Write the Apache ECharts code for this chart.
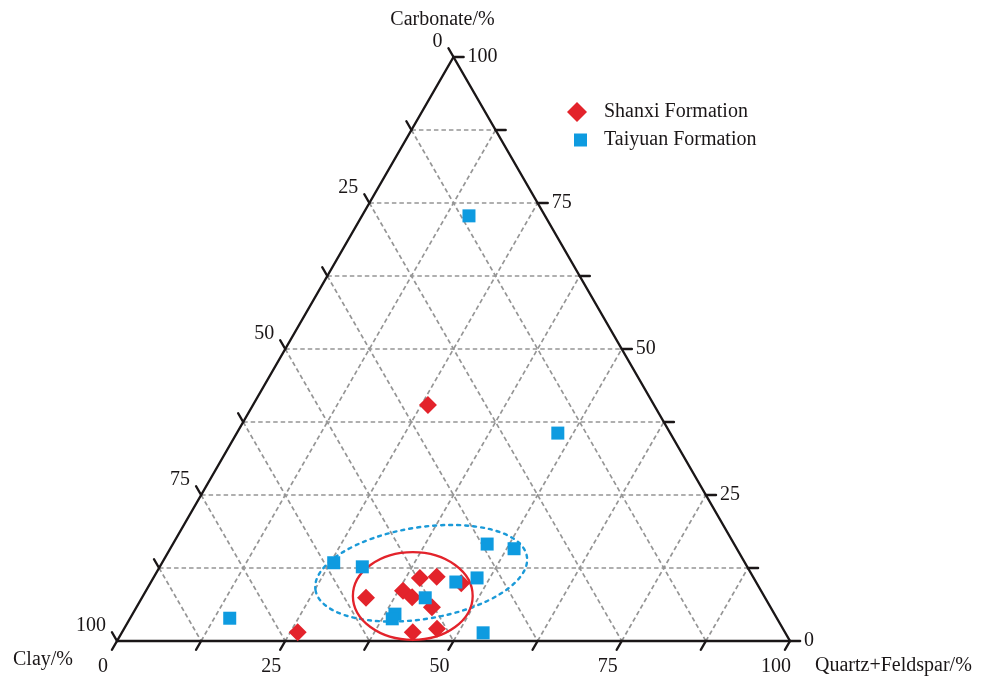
<!DOCTYPE html>
<html>
<head>
<meta charset="utf-8">
<script src="https://cdn.jsdelivr.net/npm/echarts@6/dist/echarts.min.js"></script>
<style>
  html, body { margin: 0; padding: 0; background: #ffffff; }
  #chart { width: 990px; height: 679px; }
</style>
</head>
<body>
<div id="chart"></div>
<script>
// Sample compositions, percent: quartz+feldspar, carbonate, clay
const shanxiQuartzFeldspar = [26.0, 26.1, 33.3, 38.2, 40.1, 39.6, 42.0, 43.9, 43.2, 46.5, 46.2];
const shanxiCarbonate      = [40.4,  1.5,  7.4,  8.6,  7.5, 10.8, 11.0,  5.8,  1.5,  2.1,  9.9];
const shanxiClay           = [33.6, 72.4, 59.3, 53.2, 52.4, 49.6, 47.0, 50.3, 55.3, 51.4, 43.9];

const taiyuanQuartzFeldspar = [15.9, 47.7, 46.7, 51.1, 25.5, 30.1, 48.1, 45.3, 42.1, 39.0, 39.0, 14.8, 53.7];
const taiyuanCarbonate      = [72.8, 35.6, 16.6, 15.8, 13.4, 12.7, 10.8, 10.1,  7.4,  4.6,  3.8,  3.9,  1.4];
const taiyuanClay           = [11.3, 16.7, 36.7, 33.1, 61.1, 57.2, 41.1, 44.6, 50.5, 56.4, 57.2, 81.3, 44.9];

const seriesNames = ['Shanxi Formation', 'Taiyuan Formation'];
const axisTitles = ['Carbonate/%', 'Clay/%', 'Quartz+Feldspar/%'];

// Triangular grid: dashed lines and tick marks every 12.5 %, labels every 25 %
const gridSteps = [12.5, 25, 37.5, 50, 62.5, 75, 87.5];
const tickSteps = [0, 12.5, 25, 37.5, 50, 62.5, 75, 87.5, 100];
const tickLabels = [0, 25, 50, 75, 100];
const tickLength = 1.5;

// Grouping envelopes: [quartz+feldspar, carbonate, half-width %, half-height %, tilt deg]
const shanxiEnvelope  = [40.1, 7.7, 8.9, 6.5, 0];
const taiyuanEnvelope = [39.4, 11.6, 15.9, 6.8, 9];

const FONT = 'Liberation Serif';
const INK = '#1a1617';
const RED = '#e3232b';
const BLUE = '#0e9be0';
const H = Math.sqrt(3) / 2;

// Ternary (quartz, carbonate, clay) -> plane; clay apex at the origin, quartz apex at x = 100
function toXY(q, c, l) {
  const s = q + c + l;
  return [100 * (q + c / 2) / s, 100 * H * c / s];
}
function qc(q, c) { return toXY(q, c, 100 - q - c); }

// Dashed interior grid
const gridLines = [];
gridSteps.forEach(function (v) {
  gridLines.push({ coords: [qc(0, v), qc(100 - v, v)] });          // constant carbonate
  gridLines.push({ coords: [qc(v, 0), qc(v, 100 - v)] });          // constant quartz+feldspar
  gridLines.push({ coords: [qc(0, 100 - v), qc(100 - v, 0)] });    // constant clay
});

// Triangle outline and outward ticks
const frameLines = [
  { coords: [qc(0, 0), qc(100, 0)] },
  { coords: [qc(100, 0), qc(0, 100)] },
  { coords: [qc(0, 100), qc(0, 0)] }
];
tickSteps.forEach(function (v) {
  // clay (left side): clay constant, extend past quartz = 0
  frameLines.push({ coords: [qc(0, 100 - v), qc(-tickLength, 100 - v + tickLength)] });
  // carbonate (right side): carbonate constant, extend past clay = 0
  frameLines.push({ coords: [qc(100 - v, v), qc(100 - v + tickLength, v)] });
  // quartz+feldspar (base): quartz constant, extend past carbonate = 0
  frameLines.push({ coords: [qc(v, 0), qc(v, -tickLength)] });
});

// Tick label anchors
const labelData = [];
tickLabels.forEach(function (v) {
  labelData.push({
    value: qc(-tickLength, 100 - v + tickLength),
    label: { formatter: String(v), position: [-6, -6], align: 'right', verticalAlign: 'middle' }
  });
  labelData.push({
    value: qc(100 - v + tickLength, v),
    label: { formatter: String(v), position: [4, 0], align: 'left', verticalAlign: 'middle' }
  });
  labelData.push({
    value: qc(v, -tickLength),
    label: { formatter: String(v), position: [-9, 17], align: 'center', verticalAlign: 'middle' }
  });
});
// Apex titles
labelData.push({ value: qc(0, 100), label: { formatter: axisTitles[0], position: [-11, -37], align: 'center', verticalAlign: 'middle' } });
labelData.push({ value: qc(0, 0),   label: { formatter: axisTitles[1], position: [-74, 19], align: 'center', verticalAlign: 'middle' } });
labelData.push({ value: qc(100, 0), label: { formatter: axisTitles[2], position: [25, 25], align: 'left', verticalAlign: 'middle' } });

function points(qs, cs, ls) {
  return qs.map(function (q, i) { return toXY(q, cs[i], ls[i]); });
}

function envelopeSeries(env, stroke, dash, width) {
  return {
    type: 'custom',
    coordinateSystem: 'cartesian2d',
    silent: true,
    clip: false,
    z: 4,
    data: [env],
    renderItem: function (params, api) {
      const q = api.value(0), c = api.value(1);
      const p = api.coord(qc(q, c));
      const unit = api.size([1, 1]);
      return {
        type: 'ellipse',
        x: p[0],
        y: p[1],
        rotation: api.value(4) * Math.PI / 180,
        shape: { cx: 0, cy: 0, rx: api.value(2) * unit[0], ry: api.value(3) * unit[1] },
        style: { fill: 'none', stroke: stroke, lineWidth: width, lineDash: dash, lineCap: 'round' }
      };
    }
  };
}

const chart = echarts.init(document.getElementById('chart'));
chart.setOption({
  animation: false,
  backgroundColor: '#ffffff',
  grid: { left: 117, top: 57, width: 673, height: 584 },
  xAxis: { type: 'value', min: 0, max: 100, show: false },
  yAxis: { type: 'value', min: 0, max: 100 * H, show: false },
  legend: [
    {
      data: [{ name: seriesNames[0], icon: 'diamond' }],
      left: 567, top: 102, padding: 0,
      itemWidth: 20, itemHeight: 20,
      textStyle: { fontFamily: FONT, fontSize: 20, color: INK, padding: [0, 0, 0, 12] }
    },
    {
      data: [{ name: seriesNames[1], icon: 'rect' }],
      left: 574, top: 130, padding: 0,
      itemWidth: 13, itemHeight: 13,
      textStyle: { fontFamily: FONT, fontSize: 20, color: INK, padding: [0, 0, 0, 12] }
    }
  ],
  series: [
    {
      type: 'lines',
      coordinateSystem: 'cartesian2d',
      silent: true,
      clip: false,
      z: 1,
      lineStyle: { color: '#959595', width: 1.7, type: [4.5, 3], opacity: 1 },
      data: gridLines
    },
    {
      type: 'lines',
      coordinateSystem: 'cartesian2d',
      silent: true,
      clip: false,
      z: 3,
      lineStyle: { color: INK, width: 2.4, opacity: 1, cap: 'round' },
      data: frameLines
    },
    envelopeSeries(taiyuanEnvelope, '#1b9ad8', [3, 5], 2.4),
    envelopeSeries(shanxiEnvelope, RED, null, 2.3),
    {
      name: seriesNames[0],
      type: 'scatter',
      symbol: 'diamond',
      symbolSize: 18,
      clip: false,
      z: 5,
      itemStyle: { color: RED, opacity: 1 },
      data: points(shanxiQuartzFeldspar, shanxiCarbonate, shanxiClay)
    },
    {
      name: seriesNames[1],
      type: 'scatter',
      symbol: 'rect',
      symbolSize: 13,
      clip: false,
      z: 6,
      itemStyle: { color: BLUE, opacity: 1 },
      data: points(taiyuanQuartzFeldspar, taiyuanCarbonate, taiyuanClay)
    },
    {
      type: 'scatter',
      symbolSize: 0,
      silent: true,
      clip: false,
      z: 7,
      itemStyle: { color: INK, opacity: 1 },
      label: { show: true, fontFamily: FONT, fontSize: 20, color: INK, opacity: 1, textBorderWidth: 0 },
      data: labelData
    }
  ]
});
</script>
</body>
</html>
